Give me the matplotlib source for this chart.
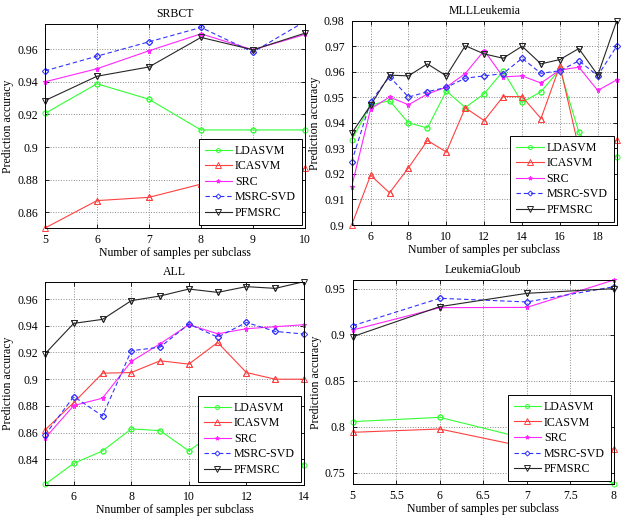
import matplotlib
matplotlib.use("Agg")
import matplotlib.pyplot as plt
from matplotlib.ticker import FuncFormatter, FixedLocator

plt.rcParams['font.family'] = ['Liberation Serif', 'DejaVu Serif']
plt.rcParams['mathtext.fontset'] = 'stix'

series_names = ["LDASVM", "ICASVM", "SRC", "MSRC-SVD", "PFMSRC"]

# SRBCT
srbct_x = [5, 6, 7, 8, 9, 10]
srbct_ldasvm = [0.9206, 0.9388, 0.9293, 0.9105, 0.9105, 0.9105]
srbct_icasvm = [0.8504, 0.8672, 0.8692, 0.8773, 0.882, 0.887]
srbct_src = [0.940, 0.948, 0.959, 0.9694, 0.9596, 0.969]
srbct_msrc = [0.9467, 0.9557, 0.9645, 0.9733, 0.9582, 0.977]
srbct_pfmsrc = [0.9285, 0.9434, 0.9491, 0.9672, 0.9596, 0.9698]

# MLLLeukemia
mll_x = [5, 6, 7, 8, 9, 10, 11, 12, 13, 14, 15, 16, 17, 18, 19]
mll_ldasvm = [0.9333, 0.9470, 0.9487, 0.9400, 0.9380, 0.9525, 0.9460, 0.9514,
              0.9603, 0.9480, 0.9522, 0.9610, 0.9363, 0.9260, 0.9267]
mll_icasvm = [0.9000, 0.9195, 0.9126, 0.9224, 0.9331, 0.9286, 0.9459, 0.9409,
              0.9503, 0.9503, 0.9417, 0.9624, 0.9300, 0.9331, 0.9331]
mll_src = [0.9150, 0.9455, 0.9501, 0.9471, 0.9513, 0.9540, 0.9593, 0.9683,
           0.9580, 0.9584, 0.9556, 0.9607, 0.9618, 0.9527, 0.9568]
mll_msrc = [0.9248, 0.9483, 0.9581, 0.9501, 0.9522, 0.9539, 0.9575, 0.9584,
            0.9593, 0.9653, 0.9594, 0.9604, 0.9643, 0.9585, 0.9700]
mll_pfmsrc = [0.9359, 0.9469, 0.9587, 0.9584, 0.9631, 0.9584, 0.9702, 0.9670,
              0.9653, 0.9700, 0.9631, 0.9648, 0.9691, 0.9587, 0.9800]

# ALL
all_x = [5, 6, 7, 8, 9, 10, 11, 12, 13, 14]
all_ldasvm = [0.8213, 0.8370, 0.8463, 0.8628, 0.8615, 0.8463, 0.8620, 0.8560, 0.8480, 0.8358]
all_icasvm = [0.8620, 0.8825, 0.9045, 0.9050, 0.9138, 0.9113, 0.9275, 0.9050, 0.9000, 0.9000]
all_src = [0.8558, 0.8803, 0.8858, 0.9133, 0.9265, 0.9408, 0.9340, 0.9378, 0.9393, 0.9408]
all_msrc = [0.8583, 0.8870, 0.8725, 0.9213, 0.9240, 0.9413, 0.9315, 0.9425, 0.9358, 0.9338]
all_pfmsrc = [0.9190, 0.9418, 0.9448, 0.9588, 0.9623, 0.9675, 0.9650, 0.9693, 0.9680, 0.9730]

# LeukemiaGloub
gloub_x = [5, 6, 7, 8]
gloub_ldasvm = [0.8058, 0.8105, 0.7870, 0.7377]
gloub_icasvm = [0.7942, 0.7978, 0.7780, 0.7761]
gloub_src = [0.9054, 0.9297, 0.9300, 0.9598]
gloub_msrc = [0.9101, 0.9399, 0.9359, 0.9525]
gloub_pfmsrc = [0.8982, 0.9308, 0.9453, 0.9504]

styles = [
    dict(color=(0.2, 1.0, 0.2), marker='o', linestyle='-', markersize=3.6, filled=False),
    dict(color=(1.0, 0.25, 0.25), marker='^', linestyle='-', markersize=4.6, filled=False),
    dict(color=(1.0, 0.15, 1.0), marker='*', linestyle='-', markersize=3.6, filled=True),
    dict(color=(0.2, 0.2, 1.0), marker='D', linestyle='--', markersize=3.2, filled=False),
    dict(color=(0.15, 0.15, 0.15), marker='v', linestyle='-', markersize=4.6, filled=False),
]

fig = plt.figure(figsize=(6.23, 5.18), dpi=100)

panels = [
    dict(rect=[0.0722, 0.5598, 0.4173, 0.3938], title="SRBCT", x=srbct_x,
         ys=[srbct_ldasvm, srbct_icasvm, srbct_src, srbct_msrc, srbct_pfmsrc],
         xlim=(5, 10), ylim=(0.8504, 0.9754), xticks=[5, 6, 7, 8, 9, 10],
         yticks=[0.86, 0.88, 0.90, 0.92, 0.94, 0.96],
         xlabel="Number of samples per subclass"),
    dict(rect=[0.5645, 0.5656, 0.4254, 0.3944], title="MLLLeukemia", x=mll_x,
         ys=[mll_ldasvm, mll_icasvm, mll_src, mll_msrc, mll_pfmsrc],
         xlim=(5, 19), ylim=(0.90, 0.98), xticks=[6, 8, 10, 12, 14, 16, 18],
         yticks=[0.90, 0.91, 0.92, 0.93, 0.94, 0.95, 0.96, 0.97, 0.98],
         xlabel="Number of samples per subclass"),
    dict(rect=[0.0722, 0.0637, 0.4157, 0.3925], title="ALL", x=all_x,
         ys=[all_ldasvm, all_icasvm, all_src, all_msrc, all_pfmsrc],
         xlim=(5, 14), ylim=(0.8208, 0.9730), xticks=[6, 8, 10, 12, 14],
         yticks=[0.84, 0.86, 0.88, 0.90, 0.92, 0.94, 0.96],
         xlabel="Nnumber of samples per subclass"),
    dict(rect=[0.5661, 0.0651, 0.4194, 0.3944], title="LeukemiaGloub", x=gloub_x,
         ys=[gloub_ldasvm, gloub_icasvm, gloub_src, gloub_msrc, gloub_pfmsrc],
         xlim=(5, 8), ylim=(0.7377, 0.9598), xticks=[5, 5.5, 6, 6.5, 7, 7.5, 8],
         yticks=[0.75, 0.80, 0.85, 0.90, 0.95],
         xlabel="Number of samples per subclass"),
]

fmt = FuncFormatter(lambda v, p: ("%g" % round(v, 4)))

for p in panels:
    ax = fig.add_axes(p["rect"])
    lo, hi = p["ylim"]
    for name, y, st in zip(series_names, p["ys"], styles):
        mfc = st["color"] if st["filled"] else 'none'
        ax.plot(p["x"], y, label=name, color=st["color"], linestyle=st["linestyle"],
                marker=st["marker"], markersize=st["markersize"], linewidth=0.8,
                markerfacecolor=mfc, markeredgecolor=st["color"],
                markeredgewidth=0.7, dashes=(4, 2.5) if st["linestyle"] == '--' else (None, None))
        # markers of points inside the axes are drawn whole (not clipped)
        inside = [(xv, yv) for xv, yv in zip(p["x"], y) if lo - 1e-6 <= yv <= hi + 1e-6]
        if inside:
            ax.plot([a for a, b in inside], [b for a, b in inside], linestyle='none',
                    marker=st["marker"], markersize=st["markersize"],
                    markerfacecolor=mfc, markeredgecolor=st["color"],
                    markeredgewidth=0.7, clip_on=False)
    ax.set_xlim(*p["xlim"])
    ax.set_ylim(*p["ylim"])
    ax.xaxis.set_major_locator(FixedLocator(p["xticks"]))
    ax.yaxis.set_major_locator(FixedLocator(p["yticks"]))
    ax.xaxis.set_major_formatter(fmt)
    ax.yaxis.set_major_formatter(fmt)
    ax.grid(True, linestyle=':', color='#888888', linewidth=0.7)
    ax.tick_params(direction='in', top=True, right=True, labelsize=8.5,
                   length=3, width=0.6)
    ax.tick_params(axis='y', pad=5)
    ax.tick_params(axis='x', pad=4)
    for s in ax.spines.values():
        s.set_linewidth(0.7)
    ax.set_title(p["title"], fontsize=8.5, pad=5)
    ax.set_xlabel(p["xlabel"], fontsize=8.5, labelpad=1)
    ax.set_ylabel("Prediction accuracy", fontsize=8.5, labelpad=2)
    leg = ax.legend(loc='lower right', fontsize=8.6, frameon=True, fancybox=False,
                    edgecolor='black', framealpha=1, borderaxespad=0.25,
                    handlelength=2.3, labelspacing=0.3, borderpad=0.5,
                    handletextpad=0.25, markerscale=0.8)
    leg.get_frame().set_linewidth(0.7)
    leg.set_zorder(5)

fig.savefig("out.png", dpi=100)
